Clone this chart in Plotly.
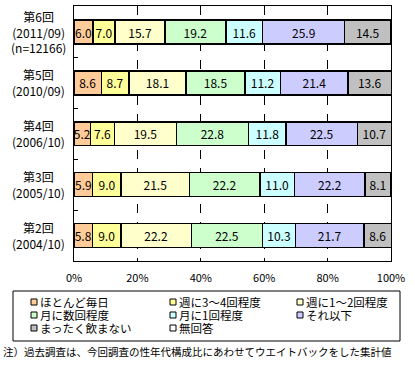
import plotly.graph_objects as go

categories = ["第6回", "第5回", "第4回", "第3回", "第2回"]
cat_labels = ["第6回<br>(2011/09)<br>(n=12166)", "第5回<br>(2010/09)", "第4回<br>(2006/10)",
              "第3回<br>(2005/10)", "第2回<br>(2004/10)"]
series_names = ["ほとんど毎日", "週に3～4回程度", "週に1～2回程度", "月に数回程度",
                "月に1回程度", "それ以下", "まったく飲まない", "無回答"]
almost_daily = [6.0, 8.6, 5.2, 5.9, 5.8]
week_3_4 = [7.0, 8.7, 7.6, 9.0, 9.0]
week_1_2 = [15.7, 18.1, 19.5, 21.5, 22.2]
month_several = [19.2, 18.5, 22.8, 22.2, 22.5]
month_once = [11.6, 11.2, 11.8, 11.0, 10.3]
less = [25.9, 21.4, 22.5, 22.2, 21.7]
never = [14.5, 13.6, 10.7, 8.1, 8.6]
no_answer = [0.1, 0.0, 0.0, 0.1, 0.0]
series_values = [almost_daily, week_3_4, week_1_2, month_several, month_once, less, never, no_answer]
colors = ["#FFCC99", "#FFFF99", "#FFFFCC", "#CCFFCC", "#CCFFFF", "#CCCCFF", "#C0C0C0", "#FFFFFF"]
x_tickvals = [0, 20, 40, 60, 80, 100]
x_ticktext = ["0%", "20%", "40%", "60%", "80%", "100%"]
note = "注）過去調査は、今回調査の性年代構成比にあわせてウエイトバックをした集計値"

FONT = "Noto Sans CJK JP"
W, H = 415, 367
L, R, T, B = 74, 24, 6, 106
PW, PH = W - L - R, H - T - B

def px_x(p):
    return (p - L) / PW

def px_y(p):
    return (H - B - p) / PH

fig = go.Figure()
for i, (name, vals, col) in enumerate(zip(series_names, series_values, colors)):
    show_text = name != "無回答"
    fig.add_trace(go.Bar(
        y=categories, x=vals, name=name, orientation="h",
        marker=dict(color=col, line=dict(color="black", width=1.5)),
        text=[f"{v:.1f}" for v in vals] if show_text else None,
        textposition="inside" if show_text else "none",
        insidetextanchor="middle", textangle=0, constraintext="none",
        textfont=dict(family=FONT, size=12, color="black"),
        hoverinfo="x+name", showlegend=False,
    ))

for c, lab in zip(categories, cat_labels):
    fig.add_annotation(x=px_x(38), xref="paper", y=c, yref="y", text=lab,
                       showarrow=False, xanchor="center", yanchor="middle", align="center",
                       font=dict(family=FONT, size=12, color="black"))

# legend box (drawn manually to match the reference layout)
fig.add_shape(type="rect", xref="paper", yref="paper",
              x0=px_x(13), x1=px_x(400), y0=px_y(291), y1=px_y(341),
              line=dict(color="black", width=1), fillcolor="white", layer="above")
col_sq = [31, 170, 297]
row_cy = [302, 315, 328]
for i, (name, col) in enumerate(zip(series_names, colors)):
    r, c = divmod(i, 3)
    sx, sy = col_sq[c], row_cy[r]
    fig.add_shape(type="rect", xref="paper", yref="paper",
                  x0=px_x(sx), x1=px_x(sx + 6), y0=px_y(sy - 3), y1=px_y(sy + 3),
                  line=dict(color="black", width=1), fillcolor=col, layer="above")
    fig.add_annotation(x=px_x(sx + 7), xref="paper", y=px_y(sy), yref="paper", text=name,
                       showarrow=False, xanchor="left", yanchor="middle",
                       font=dict(family=FONT, size=11.5, color="black"))

fig.add_annotation(x=px_x(1), xref="paper", y=px_y(351), yref="paper", text=note,
                   showarrow=False, xanchor="left", yanchor="middle",
                   font=dict(family=FONT, size=10.5, color="black"))

fig.update_layout(
    width=W, height=H, margin=dict(l=L, r=R, t=T, b=B, autoexpand=False),
    barmode="stack", bargap=0.53,
    paper_bgcolor="white", plot_bgcolor="white",
    font=dict(family=FONT, size=12, color="black"),
    showlegend=False,
    xaxis=dict(range=[0, 100], tickvals=x_tickvals, ticktext=x_ticktext,
               showgrid=True, gridcolor="black", griddash="dash", gridwidth=1,
               showline=True, linecolor="black", linewidth=1, mirror=True,
               ticks="", ticklabelstandoff=7, zeroline=False,
               tickfont=dict(family=FONT, size=11, color="black")),
    yaxis=dict(categoryorder="array", categoryarray=categories, autorange="reversed",
               showticklabels=False, ticks="inside", tickson="boundaries", ticklen=4,
               tickcolor="black", showline=True, linecolor="black", linewidth=1, mirror=True,
               showgrid=False),
)

fig.write_html("out.html")
